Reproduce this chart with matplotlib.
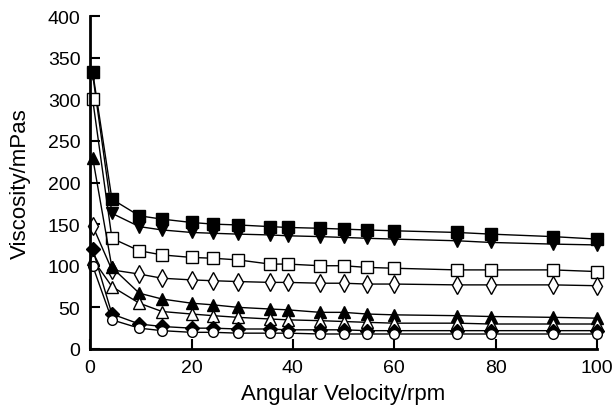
import matplotlib.pyplot as plt
import numpy as np

plt.rcParams['font.family'] = ['Liberation Sans', 'DejaVu Sans']

# angular velocity (rpm)
speed = [0.5, 4.3, 9.7, 14.2, 20, 24.3, 29.2, 35.5, 39, 45.4, 50, 54.6, 60, 72.4, 79, 91.3, 100]

# viscosity (mPas) per sample
filled_square = [333, 180, 160, 156, 152, 150, 149, 147, 146, 145, 144, 143, 142, 140, 138, 135, 132]
filled_down = [330, 163, 147, 143, 140, 139, 138, 137, 136, 135, 134, 133, 132, 130, 128, 126, 125]
open_square = [300, 133, 118, 113, 110, 109, 107, 102, 102, 100, 100, 98, 97, 95, 95, 95, 93]
open_diamond = [148, 95, 90, 85, 83, 82, 81, 80, 80, 79, 79, 78, 78, 77, 77, 77, 76]
filled_up = [230, 98, 67, 60, 55, 53, 50, 48, 47, 44, 44, 42, 41, 40, 39, 38, 37]
open_up = [108, 75, 55, 45, 42, 40, 38, 36, 35, 34, 33, 32, 31, 31, 30, 30, 30]
filled_diamond = [120, 42, 30, 27, 25, 25, 24, 24, 23, 23, 23, 22, 22, 22, 22, 22, 22]
open_circle = [100, 35, 25, 22, 20, 20, 19, 19, 19, 18, 18, 18, 18, 18, 18, 18, 18]

series = [
    (filled_square, 's', 'k', 8),
    (filled_down, 'v', 'k', 9),
    (open_square, 's', 'w', 8),
    (open_diamond, 'd', 'w', 9),
    (filled_up, '^', 'k', 9),
    (open_up, '^', 'w', 9),
    (filled_diamond, 'D', 'k', 7),
    (open_circle, 'o', 'w', 7),
]

fig = plt.figure(figsize=(6.13, 4.06), dpi=100)
ax = fig.add_axes([0.147, 0.138, 0.827, 0.82])

for vals, mk, fc, ms in series:
    ax.plot(speed, vals, color='k', linewidth=1, marker=mk, markersize=ms,
            markerfacecolor=fc, markeredgecolor='k', markeredgewidth=1, clip_on=False)

ax.set_xlim(0, 100)
ax.set_ylim(0, 400)
ax.set_xticks(np.arange(0, 101, 20))
ax.set_yticks(np.arange(0, 401, 50))
ax.spines['top'].set_visible(False)
ax.spines['right'].set_visible(False)
ax.spines['left'].set_linewidth(2)
ax.spines['bottom'].set_linewidth(2)
ax.tick_params(direction='in', length=7, width=1.5, labelsize=14, pad=7)
ax.set_xlabel('Angular Velocity/rpm', fontsize=16, labelpad=5)
ax.set_ylabel('Viscosity/mPas', fontsize=16, labelpad=12)

fig.savefig('out.png', dpi=100)
